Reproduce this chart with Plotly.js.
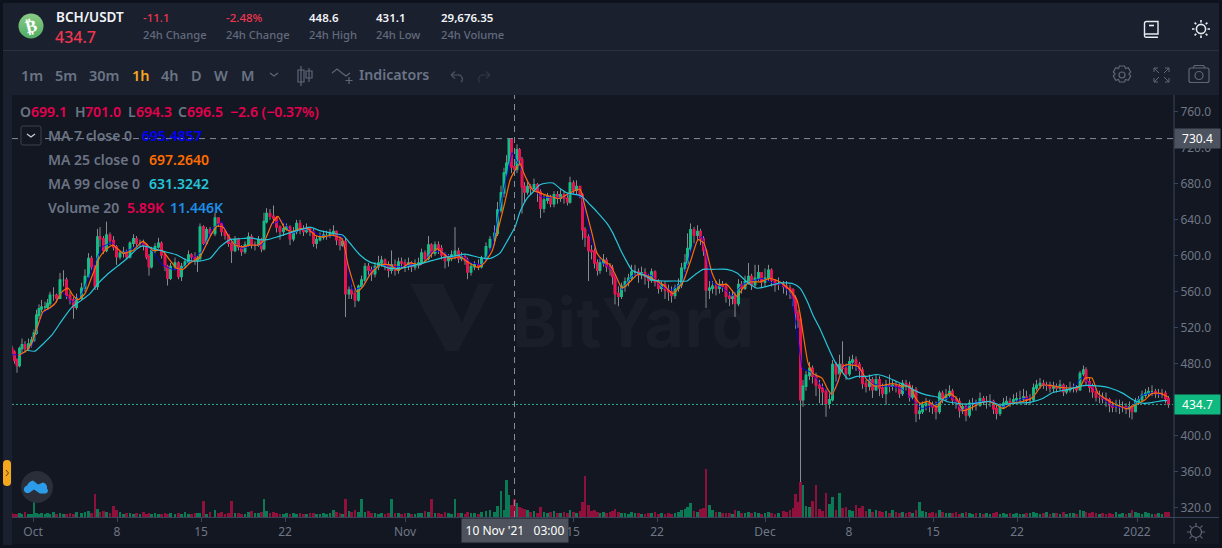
<!DOCTYPE html>
<html><head><meta charset="utf-8">
<script src="https://cdn.plot.ly/plotly-3.0.1.min.js"></script>
<style>
html,body{margin:0;padding:0;background:#0e121c;width:1222px;height:548px;overflow:hidden;font-family:"Noto Sans",sans-serif}
.abs{position:absolute;white-space:pre;line-height:1}
#hdr{position:absolute;left:3px;top:3px;width:1216px;height:92px;background:#1a202e}
#sep{position:absolute;left:3px;top:50px;width:1216px;height:1px;background:#2a3143}
#left{position:absolute;left:3px;top:95px;width:9px;height:450px;background:#1a202e}
#panel{position:absolute;left:12px;top:95px;width:1207px;height:449px;background:#131722}
#wm{position:absolute;left:0;top:0}
#plot{position:absolute;left:0;top:0;width:1222px;height:548px}
#over{position:absolute;left:0;top:0;width:1222px;height:548px;pointer-events:none}
</style></head><body>
<div id="hdr"></div><div id="sep"></div><div id="left"></div><div id="panel"></div>
<svg id="wm" width="1222" height="548">
<path d="M410 284H443L462 323L478 284H494L458 351H446Z" fill="#1a1e29"/>
<text x="512" y="347" font-family="Inter,Roboto" font-weight="700" font-size="68" letter-spacing="0.5" fill="#1a1e29">BitYard</text>
</svg>
<div id="plot"></div>
<div id="over"></div>
<script>
const hours=[
0,5,10,15,20,26,33,39,44,49,
54,59,66,71,76,83,89,96,103,109,
116,123,129,139,146,153,159,166,171,176,
183,189,196,203,209,216,223,229,236,243,
249,256,263,269,274,279,286,293,299,306,
311,317,326,333,339,346,353,359,366,371,
376,383,389,396,406,413,419,426,433,439,
446,453,459,466,473,479,486,493,499,504,
509,516,523,529,536,543,549,556,563,569,
576,583,589,596,603,609,616,623,629,636,
643,649,656,661,667,674,679,686,693,699,
706,713,719,726,733,739,746,753,759,766,
773,779,786,793,799,806,813,819,826,833,
839,846,853,859,866,873,879,886,893,899,
906,911,918,925,933,939,948,956,965,971,
978,984,989,994,999,1005,1010,1015,1020,1025,
1031,1037,1044,1051,1057,1064,1071,1077,1084,1091,
1097,1104,1111,1116,1123,1129,1136,1141,1146,1153,
1159,1165,1171,1176,1183,1189,1196,1201,1206,1213,
1219,1226,1233,1239,1246,1253,1259,1266,1273,1279,
1286,1293,1299,1306,1313,1319,1326,1333,1339,1346,
1351,1357,1364,1371,1377,1383,1388,1395,1401,1408,
1415,1421,1428,1435,1441,1446,1453,1459,1466,1473,
1479,1486,1493,1499,1506,1513,1519,1526,1533,1543,
1549,1556,1562,1567,1572,1577,1582,1588,1595,1601,
1608,1615,1621,1628,1635,1641,1648,1655,1661,1668,
1675,1681,1688,1695,1701,1708,1715,1721,1728,1735,
1741,1748,1755,1761,1768,1775,1781,1788,1795,1801,
1808,1815,1821,1828,1835,1841,1848,1855,1861,1868,
1875,1881,1888,1895,1901,1908,1915,1921,1928,1936,
1943,1949,1956,1963,1969,1976,1983,1989,1996,2003,
2009,2016,2023,2029,2036,2043,2049,2056,2063,2069,
2076,2083,2089,2096,2103,2109,2116,2123,2129,2136,
2143,2148,2155,2161,2168,2175,2181,2188,2195,2201,
2208,2215,2221,2228,2235,2240,2247,2253,2260,2267,
2273,2280,2287,2293,2300,2307,2313];
const opens=[
497,493,484,478,497,501,497,502,506,514,
534,541,543,543,547,556,556,553,573,573,
556,551,543,553,564,577,597,588,566,621,
619,606,623,617,610,599,603,604,599,614,
619,614,614,612,599,588,606,610,614,601,
588,575,588,592,577,588,593,601,599,595,
597,632,614,629,625,642,636,627,623,614,
606,618,610,605,612,621,612,612,618,608,
638,647,644,642,632,627,630,632,619,627,
636,629,627,630,627,614,618,621,623,623,
625,627,618,612,616,558,562,558,551,566,
573,588,584,580,588,592,595,590,584,590,
584,593,592,590,592,588,590,592,603,597,
612,603,612,608,601,595,597,601,605,597,
599,595,582,588,590,588,597,610,618,625,
651,670,692,703,729,699.1,696.5,718,707,677,
671,677,675,679,671,653,662,666,658,668,
664,668,664,660,681,673,677,668,629,621,
606,605,592,584,592,595,588,586,577,558,
555,566,571,575,582,582,579,581,577,573,
582,571,564,568,562,560,556,564,568,586,
592,608,629,623,627,619,606,562,564,566,
564,568,566,555,553,555,547,568,564,571,
577,568,575,581,571,575,584,573,568,568,
566,564,562,553,536,529,440,455,467,475,
466,456,453,449,436,440,479,469,479,475,
469,482,484,479,473,458,455,462,451,462,
453,447,456,455,456,455,447,458,456,443,
451,425,427,434,436,434,432,427,447,441,
445,449,440,438,428,432,423,436,436,434,
441,438,438,438,430,425,432,436,438,436,
440,441,441,443,440,440,453,456,458,456,
456,453,454,453,456,449,451,453,453,451,
469,473,460,454,449,443,443,441,440,434,
432,432,432,432,430,432,427,438,440,445,
447,449,449,447,447,447,441];
const highs=[
500,495,486,499,508,505,508,510,518,540,
546,551,549,552,560,565,558,581,584,576,
560,554,558,570,585,603,600,590,630,632,
622,638,626,622,612,606,610,607,616,624,
622,618,618,614,602,610,614,620,616,604,
590,592,598,594,592,597,606,603,604,600,
636,634,632,632,648,640,630,628,622,618,
622,620,612,616,626,624,616,622,620,648,
653,652,656,644,634,636,636,634,632,640,
640,634,636,632,630,622,626,628,628,630,
634,628,622,620,620,566,568,564,568,578,
592,592,588,593,600,600,597,594,606,596,
598,598,596,598,594,596,598,608,606,622,
614,616,616,612,604,602,606,632,609,604,
602,598,592,594,596,600,615,622,634,660,
678,698,712,730.4,731,701,724,720,710,682,
682,680,686,681,674,668,670,668,672,672,
674,671,668,688,684,684,678,670,632,624,
612,610,596,598,602,598,592,590,580,566,
570,576,580,590,590,586,588,586,580,586,
584,574,572,572,568,566,568,575,592,602,
625,636,632,634,630,622,608,572,572,572,
574,572,570,560,562,560,574,572,578,592,
580,590,590,580,586,590,586,574,576,572,
572,568,564,556,540,532,462,472,482,478,
470,462,458,452,448,484,482,490,505,480,
488,490,488,482,476,462,468,465,468,466,
458,462,468,462,460,458,462,462,460,456,
454,436,438,442,440,438,438,450,450,452,
456,452,444,442,436,436,440,442,440,448,
444,444,446,440,434,436,442,444,442,446,
448,450,452,450,446,458,462,464,462,460,
460,460,458,462,458,456,460,458,456,472,
478,476,464,458,452,450,448,448,442,438,
440,440,438,436,438,434,442,444,450,452,
454,456,452,452,452,450,444];
const lows=[
489,480,470,476,492,492,494,498,504,512,
530,537,538,540,544,550,548,552,566,552,
546,530,540,551,560,575,584,562,562,610,
602,604,612,606,590,596,598,596,597,610,
610,610,606,596,578,586,603,608,597,583,
567,573,584,574,572,586,590,594,590,582,
594,612,612,622,622,632,622,618,610,592,
604,606,600,602,610,608,606,610,604,606,
636,640,636,626,618,622,628,612,616,624,
624,622,625,622,610,608,616,618,618,620,
622,612,606,610,532,552,552,543,549,564,
570,578,572,576,584,588,584,576,580,578,
580,586,582,584,582,584,586,590,592,595,
598,600,602,596,586,588,594,596,592,594,
590,574,578,584,584,586,595,606,612,622,
648,665,688,700,692,694.3,692,700,647,660,
668,668,672,660,642,648,658,654,654,658,
660,658,656,658,668,668,664,618,610,572,
596,586,578,580,588,582,578,568,546,544,
552,560,566,572,576,570,574,568,564,570,
566,558,560,552,550,548,552,560,564,582,
590,604,614,618,612,600,542,552,558,556,
558,560,548,544,546,532,544,558,562,568,
562,564,572,564,566,572,566,560,562,558,
556,552,544,519,520,345,432,450,462,458,
444,436,434,421,430,438,460,468,470,462,
466,474,472,464,452,448,450,442,450,444,
442,434,448,450,448,442,444,450,438,440,
415,418,424,428,426,424,418,424,436,438,
442,434,430,420,424,416,420,428,428,432,
434,430,432,424,418,422,430,434,432,434,
436,436,438,434,434,438,450,452,452,450,
448,448,448,450,444,446,448,448,448,450,
466,456,448,442,438,436,436,432,426,426,
426,424,426,424,420,418,426,434,438,442,
444,444,442,442,442,436,431];
const closes=[
493,484,478,497,501,497,502,506,514,534,
541,543,543,547,556,556,553,573,573,556,
551,543,553,564,577,597,588,566,621,619,
606,623,617,610,599,603,604,599,614,619,
614,614,612,599,588,606,610,614,601,588,
575,588,592,577,588,593,601,599,595,597,
632,614,629,625,642,636,627,623,614,606,
618,610,605,612,621,612,612,618,608,638,
647,644,642,632,627,630,632,619,627,636,
629,627,630,627,614,618,621,623,623,625,
627,618,612,616,558,562,558,551,566,573,
588,584,580,588,592,595,590,584,590,584,
593,592,590,592,588,590,592,603,597,612,
603,612,608,601,595,597,601,605,597,599,
595,582,588,590,588,597,610,618,625,651,
670,692,703,729,699,696.5,718,707,677,671,
677,675,679,671,653,662,666,658,668,664,
668,664,660,681,673,677,668,629,621,606,
605,592,584,592,595,588,586,577,558,555,
566,571,575,582,582,579,581,577,573,582,
571,564,568,562,560,556,564,568,586,592,
608,629,623,627,619,606,562,564,566,564,
568,566,555,553,555,547,568,564,571,577,
568,575,581,571,575,584,573,568,568,566,
564,562,553,536,529,440,455,467,475,466,
456,453,449,436,440,479,469,479,475,469,
482,484,479,473,458,455,462,451,462,453,
447,456,455,456,455,447,458,456,443,451,
425,427,434,436,434,432,427,447,441,445,
449,440,438,428,432,423,436,436,434,441,
438,438,438,430,425,432,436,438,436,440,
441,441,443,440,440,453,456,458,456,456,
453,454,453,456,449,451,453,453,451,469,
473,460,454,449,443,443,441,440,434,432,
432,432,432,430,432,427,438,440,445,447,
449,449,447,447,447,441,434.7];
const volumes=[
8,6,5,7,6,9,6,5,34,7,
6,8,5,7,6,9,5,7,6,5,
8,6,10,7,9,12,8,46,16,10,
12,10,8,22,14,9,6,8,7,6,
8,5,9,6,7,5,8,6,5,7,
6,8,5,7,6,9,5,6,8,7,
8,32,6,10,14,8,9,6,7,32,
7,8,5,6,10,12,7,8,9,36,
12,7,9,8,6,5,7,6,8,6,
7,5,6,8,7,6,5,7,6,8,
14,9,7,6,36,12,9,14,10,36,
9,12,8,7,6,8,5,7,36,8,
7,6,8,7,6,5,8,7,12,9,
36,8,7,6,9,7,6,36,8,7,
6,10,7,8,6,9,12,14,10,22,
52,14,74,44,24,36,28,20,18,16,
14,10,12,8,20,10,8,9,12,7,
8,10,7,14,9,7,12,30,82,24,
12,14,9,8,10,7,9,12,16,10,
8,7,6,9,7,8,6,5,7,8,
9,6,7,5,8,6,7,9,14,16,
20,28,12,10,16,18,96,24,14,10,
9,8,7,8,6,14,12,8,7,9,
7,9,8,6,7,10,8,6,7,12,
10,14,18,46,30,70,64,22,20,32,
64,16,12,48,26,40,14,48,18,20,
14,12,24,18,22,12,16,10,14,12,
10,12,8,14,9,8,10,7,9,8,
14,30,12,10,8,9,7,14,9,8,
8,7,9,6,8,10,7,6,8,7,
6,7,5,8,9,6,7,5,8,6,
7,5,6,8,7,10,8,6,7,9,
6,8,7,5,9,6,7,8,6,14,
12,10,8,9,7,6,8,5,7,6,
9,5,7,6,8,14,10,7,6,9,
7,6,5,7,6,9,10];
const ma7=[490,490,500,535,543,560,548,558,585,610,615,603,608,614,606,590,585,585,597,605,630,638,615,608,612,612,635,640,625,630,628,622,622,622,562,565,585,590,588,588,590,590,605,605,598,600,592,590,610,665,715,695,675,665,665,665,670,665,615,592,585,562,578,580,578,565,562,570,610,622,570,565,555,568,572,575,570,568,555,475,470,455,445,475,480,470,458,455,455,452,440,430,433,440,443,428,436,438,438,432,436,441,442,456,456,454,453,465,455,442,433,431,432,445,448,445];
const ma25Hours=[
12,30,42,52,62,72,86,100,112,122,
132,146,162,176,190,202,222,242,262,282,
300,316,330,342,356,376,396,410,422,432,
446,462,476,492,506,520,532,546,560,576,
592,606,620,640,660,672,690,702,716,736,
756,772,796,816,832,850,862,876,896,912,
932,946,960,972,986,996,1006,1016,1022,1032,
1042,1056,1076,1096,1116,1136,1146,1160,1170,1182,
1196,1210,1220,1236,1250,1266,1286,1302,1322,1342,
1360,1372,1384,1400,1412,1430,1450,1462,1476,1496,
1516,1536,1556,1570,1576,1582,1592,1602,1620,1632,
1640,1652,1662,1672,1692,1710,1726,1742,1762,1782,
1796,1806,1816,1832,1850,1862,1876,1890,1902,1916,
1936,1952,1970,1982,2000,2022,2042,2060,2076,2096,
2116,2136,2146,2160,2172,2190,2210,2230,2246,2266,
2280,2296,2312];
const ma25=[
489,495,506,523,538,541,547,560,564,556,
551,558,580,599,608,612,603,606,616,606,
606,595,586,585,592,599,621,633,632,623,
612,610,612,612,618,636,644,630,627,630,
630,623,621,623,619,590,560,566,579,590,
590,584,592,590,597,608,603,597,599,593,
587,593,605,629,660,684,695,703,694,682,
673,670,666,664,670,674,655,625,603,595,
590,575,564,571,579,579,573,568,558,571,
599,618,614,581,568,568,555,564,571,571,
575,571,562,551,536,514,481,469,464,451,
446,460,477,479,477,462,455,456,458,455,
455,443,436,438,432,441,447,441,428,430,
436,438,434,430,436,438,443,456,456,454,
453,454,464,464,447,440,434,430,434,440,
447,447,443];
const ma99Hours=[
30,46,62,80,96,110,122,140,156,172,
190,210,230,250,262,290,310,330,350,372,
396,416,436,456,476,496,510,530,552,576,
596,616,642,662,676,696,716,736,756,776,
816,842,862,886,906,936,956,976,990,1006,
1016,1030,1042,1056,1070,1082,1096,1110,1130,1140,
1156,1170,1190,1202,1216,1230,1240,1262,1282,1302,
1330,1350,1366,1382,1402,1430,1450,1470,1490,1510,
1536,1562,1576,1590,1602,1616,1630,1646,1660,1672,
1690,1710,1730,1750,1770,1790,1810,1830,1850,1870,
1890,1910,1956,1976,2002,2036,2060,2082,2110,2136,
2150,2176,2196,2222,2242,2262,2282,2302,2310];
const ma99=[
495,494,502,512,525,536,544,551,558,569,
579,588,597,608,611,607,604,601,595,594,
597,610,618,619,620,618,618,621,625,629,
632,628,625,623,614,601,593,590,586,586,
591,595,598,600,602,598,597,603,616,632,
649,664,671,679,681,681,675,670,668,666,
657,649,636,625,608,593,584,579,573,572,
572,572,579,585,585,585,581,571,564,566,
570,569,564,550,534,519,501,482,471,463,
466,466,468,465,460,455,449,445,443,438,
436,435,438,434,436,437,441,448,451,455,
456,455,453,447,440,436,437,439,439];
const xTickDates=['2021-10-01','2021-10-08','2021-10-15','2021-10-22','2021-11-01','2021-11-15','2021-11-22','2021-12-01','2021-12-08','2021-12-15','2021-12-22','2022-01-01'];
const xTickLabels=['Oct','8','15','22','Nov','15','22','Dec','8','15','22','2022'];
const yTicks=[320,360,400,480,520,560,600,640,680,720,760];
const START=Date.UTC(2021,8,29,6);
const toDate=h=>new Date(START+h*3600e3).toISOString();
const UP='#10bf85',DOWN='#ee0f50',WICK='#a8a8a8',FRONT="Noto Sans";
const t=hours.map(toDate);
const bodyHi=opens.map((o,i)=>Math.max(o,closes[i])),bodyLo=opens.map((o,i)=>Math.min(o,closes[i]));
const traces=[
 {type:'bar',x:t,y:volumes,yaxis:'y2',width:volumes.map(()=>5*3600e3),marker:{color:opens.map((o,i)=>closes[i]>=o?'#0a7a55':'#8f103b'),line:{width:0}},hoverinfo:'skip',showlegend:false},
 {type:'candlestick',x:t,open:opens,high:highs,low:lows,close:closes,whiskerwidth:0,
  increasing:{line:{color:WICK,width:0.8},fillcolor:WICK},decreasing:{line:{color:WICK,width:0.8},fillcolor:WICK},hoverinfo:'skip',showlegend:false},
 {type:'candlestick',x:t,open:opens,high:bodyHi,low:bodyLo,close:closes,whiskerwidth:0,
  increasing:{line:{color:UP,width:1.6},fillcolor:UP},decreasing:{line:{color:DOWN,width:1.6},fillcolor:DOWN},hoverinfo:'skip',showlegend:false},
 {type:'scatter',mode:'lines',x:ma7.map((v,i)=>toDate(i*20)),y:ma7,line:{color:'#0000ff',width:0.8},hoverinfo:'skip',showlegend:false},
 {type:'scatter',mode:'lines',x:ma25Hours.map(toDate),y:ma25,line:{color:'#ff6d00',width:1.2,shape:'spline',smoothing:0.5},hoverinfo:'skip',showlegend:false},
 {type:'scatter',mode:'lines',x:ma99Hours.map(toDate),y:ma99,line:{color:'#26c6da',width:1.2,shape:'spline',smoothing:0.5},hoverinfo:'skip',showlegend:false}
];
const PW=1161,PH=422,L=12,T=95;
const px=v=>(v-L)/PW, py=v=>(T+PH-v)/PH;
const layout={
 width:1222,height:548,margin:{l:L,r:1222-L-PW,t:T,b:548-T-PH,pad:0},autosize:false,
 paper_bgcolor:'rgba(0,0,0,0)',plot_bgcolor:'rgba(0,0,0,0)',showlegend:false,bargap:0,
 font:{family:FRONT,size:12,color:'#6f7685'},
 xaxis:{type:'date',range:['2021-09-29 06:00','2022-01-04 00:00'],rangeslider:{visible:false},showgrid:false,zeroline:false,
  tickmode:'array',tickvals:xTickDates,ticktext:xTickLabels,ticks:'outside',ticklen:4,tickcolor:'#39445c',showline:false,tickfont:{size:12,color:'#6f7685'}},
 yaxis:{side:'right',range:[309.5,778.9],showgrid:false,zeroline:false,tickmode:'array',tickvals:yTicks,tickformat:'.1f',ticks:'outside',ticklen:4,tickcolor:'#39445c',showline:false,tickfont:{size:12,color:'#6f7685'}},
 yaxis2:{domain:[0,0.2],range:[0,168],showgrid:false,zeroline:false,showticklabels:false,ticks:'',anchor:'x',side:'left'},
 shapes:[
  {type:'line',xref:'paper',yref:'y',x0:0,x1:1,y0:730.4,y1:730.4,line:{color:'#838d9c',width:1,dash:'6px,5px'}},
  {type:'line',xref:'x',yref:'paper',x0:toDate(1005),x1:toDate(1005),y0:0,y1:1,line:{color:'#838d9c',width:1,dash:'6px,5px'}},
  {type:'line',xref:'paper',yref:'y',x0:0,x1:1,y0:434.7,y1:434.7,line:{color:'#2fa98a',width:1,dash:'2px,2px'}},
  {type:'line',xref:'paper',yref:'paper',x0:px(1174),x1:px(1174),y0:py(95),y1:py(544),line:{color:'#39445c',width:1}},
  {type:'line',xref:'paper',yref:'paper',x0:px(12),x1:px(1219),y0:py(517.5),y1:py(517.5),line:{color:'#39445c',width:1}}
 ],
 annotations:[
  {xref:'paper',yref:'y',x:px(1174),y:730.4,xanchor:'left',yanchor:'middle',text:'730.4',showarrow:false,width:43,height:17,bgcolor:'#4c525e',font:{size:12,color:'#ffffff'}},
  {xref:'paper',yref:'y',x:px(1174),y:434.7,xanchor:'left',yanchor:'middle',text:'434.7',showarrow:false,width:43,height:17,bgcolor:'#0fb97f',font:{size:12,color:'#ffffff'}},
  {xref:'x',yref:'paper',x:toDate(1005),y:py(530.5),xanchor:'center',yanchor:'middle',text:"10 Nov '21\u00a0\u00a0\u00a003:00",showarrow:false,width:104,height:21,bgcolor:'#4e525c',font:{size:12,color:'#ffffff'}}
 ]
};
Plotly.newPlot('plot',traces,layout,{staticPlot:true,displayModeBar:false});
const GR='#6b7484',RD='#e6004f',LB='#626b7d',TB='#6a7485';
const texts=[
 ['BCH/USDT',56,18,'13.5px',600,'#f2f4f8'],['434.7',55,37,'16px',500,'#f0364f'],
 ['-11.1',143,18,'11.5px',500,'#f0364f'],['24h Change',143,35,'11.2px',500,LB],
 ['-2.48%',226,18,'11.5px',500,'#f0364f'],['24h Change',226,35,'11.2px',500,LB],
 ['448.6',309,18,'11.5px',600,'#f2f4f8'],['24h High',309,35,'11.2px',500,LB],
 ['431.1',376,18,'11.5px',600,'#f2f4f8'],['24h Low',376,35,'11.2px',500,LB],
 ['29,676.35',441,18,'11.5px',600,'#f2f4f8'],['24h Volume',441,35,'11.2px',500,LB],
 ['1m',21,75,'14.5px',600,TB],['5m',55,75,'14.5px',600,TB],['30m',89,75,'14.5px',600,TB],['1h',132,75,'14.5px',600,'#f5a623'],
 ['4h',161,75,'14.5px',600,TB],['D',191,75,'14.5px',600,TB],['W',214,75,'14.5px',600,TB],['M',241,75,'14.5px',600,TB],
 ['Indicators',359,75,'14.2px',600,TB],
 ['MA 7 close 0',48,136,'14px',600,GR],['695.4857',142,136,'14px',600,'#0000ff'],
 ['MA 25 close 0',48,160,'14px',600,GR],['697.2640',149,160,'14px',600,'#ff6d00'],
 ['MA 99 close 0',48,184,'14px',600,GR],['631.3242',149,184,'14px',600,'#26c6da'],
 ['Volume 20',48,208,'14px',600,GR],['5.89K',127,208,'14px',600,RD],['11.446K',170,208,'14px',600,'#1e8fe8'],
 ['O',20,112,'14px',600,GR],['699.1',31,112,'14px',600,RD],['H',75,112,'14px',600,GR],['701.0',85,112,'14px',600,RD],
 ['L',128,112,'14px',600,GR],['694.3',136,112,'14px',600,RD],['C',178,112,'14px',600,GR],['696.5',187,112,'14px',600,RD],
 ['\u22122.6 (\u22120.37%)',230,112,'14px',600,RD]
];
const over=document.getElementById('over');
texts.forEach(([s,x,y,fs,w,c])=>{const d=document.createElement('div');d.className='abs';d.textContent=s;
 d.style.cssText=`left:${x}px;top:${y}px;font-size:${fs};font-weight:${w};color:${c};transform:translateY(-50%)`;over.appendChild(d);});
over.insertAdjacentHTML('beforeend',`<svg width="1222" height="548" style="position:absolute;left:0;top:0">
<defs><linearGradient id="g" x1="0" y1="0" x2="0" y2="1"><stop offset="0" stop-color="#8ccb86"/><stop offset="1" stop-color="#4fae63"/></linearGradient></defs>
<circle cx="31" cy="26" r="12.5" fill="url(#g)"/>
<text x="31" y="32" text-anchor="middle" font-size="17" font-weight="700" fill="#fff" font-family="DejaVu Sans" transform="rotate(-14 31 26)">\u20bf</text>
<g fill="none" stroke="#e8ebf0" stroke-width="1.4">
<path d="M1144.5 35V23.5a2 2 0 0 1 2-2H1158V34H1146a1.6 1.6 0 0 0 0 3.2H1158"/><path d="M1149 25.5H1154" stroke-width="1.6"/>
<circle cx="1201" cy="29" r="4.6" stroke-width="1.6"/>
<path d="M1201 20v2.5M1201 35.5V38M1192 29h2.5M1207.5 29h2.5M1194.6 22.6l1.7 1.7M1205.7 33.7l1.7 1.7M1194.6 35.4l1.7-1.7M1205.7 24.3l1.7-1.7" stroke-width="1.6"/>
</g>
<g fill="none" stroke="#5e6777" stroke-width="1.2">
<circle cx="1122" cy="75" r="3"/><path d="M1119.5 66l5 0 1 2.5 2.7-.8 2.5 4.3-1.8 2 1.800 2-2.5 4.3-2.7-.8-1 2.5h-5l-1-2.5-2.7.8-2.5-4.3 1.8-2-1.8-2 2.5-4.3 2.7.8z"/>
<path d="M1154 68h4M1154 68v4M1154 68l5 5M1169 68h-4M1169 68v4M1169 68l-5 5M1154 82h4M1154 82v-4M1154 82l5-5M1169 82h-4M1169 82v-4M1169 82l-5-5" stroke-width="1"/>
<rect x="1189" y="68" width="20" height="14.5" rx="2"/><circle cx="1199" cy="75.5" r="4"/><path d="M1193 68l1.5-2.5h9l1.5 2.5"/>
<path d="M301 66v20M301 70h-3v12h6v-12z"/><path d="M309 68v14M309 71h-3v7h6v-7z"/>
<path d="M332 73l5-4 5 4 4 3 4-3"/><path d="M349 77v7M345.500 80.5h7"/>
<path d="M270 73l4 3 4-3"/>
<path d="M451 75h7a4 4 0 0 1 3 7M451 75l4-3.5M451 75l4 3.5" stroke="#4d5565"/>
<path d="M490 75h-7a4 4 0 0 0-3 7M490 75l-4-3.5M490 75l-4 3.5" stroke="#2f3645"/>
<circle cx="1196" cy="532" r="5.5"/><path d="M1196 523v3M1196 538v3M1187 532h3M1202 532h3M1189.6 525.6l2 2M1200.4 536.4l2 2M1189.6 538.4l2-2M1200.4 527.6l2-2"/>
</g>
<rect x="21" y="126" width="20" height="19" rx="2" fill="#131722" stroke="#3b404c"/><path d="M27 134l4 3 4-3" fill="none" stroke="#c8ccd4" stroke-width="1.3"/>
<rect x="3" y="460" width="8" height="26" rx="4" fill="#f5a81c"/><path d="M6 470l2.5 3-2.5 3" fill="none" stroke="#5a4514" stroke-width="1"/>
<ellipse cx="37" cy="487" rx="16" ry="16" fill="#2a2e39"/>
<path d="M26 493a4 4 0 0 1 1-7.5a9 9 0 0 1 6-5l5 4 5-2a5 5 0 0 1 4 6a3 3 0 0 1-1 5l-6 0-6-4-5 3.500z" fill="#2d9ce8"/>
</svg>`);
</script>
</body></html>
